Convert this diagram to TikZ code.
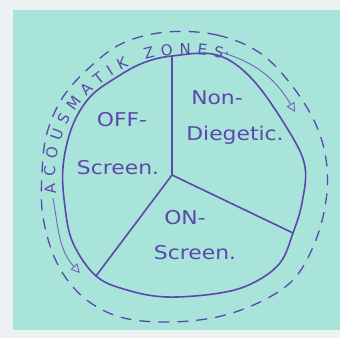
\documentclass[tikz,border=0pt]{standalone}
\usepackage{fontspec}
\setsansfont{DejaVu Sans}
\usetikzlibrary{decorations.text,arrows.meta}
\definecolor{ink}{RGB}{92,72,170}
\definecolor{note}{RGB}{168,228,218}
\definecolor{paper}{RGB}{236,242,242}
\begin{document}
\begin{tikzpicture}[x=1pt,y=1pt,
  pen/.style={draw=ink,line width=1.6pt,line join=round,line cap=round},
  dashring/.style={draw=ink,line width=1.3pt,dash pattern=on 11pt off 8pt},
  lbl/.style={text=ink,font=\sffamily\fontsize{19}{19}\selectfont,xscale=1.15,inner sep=0pt},
  arr/.style={draw=ink!85,line width=0.9pt,-{Triangle[open,length=9pt,width=9pt]}}]
% paper and sticky note
\fill[paper] (0,0) rectangle (340,338);
\useasboundingbox (0,0) rectangle (340,338);
\fill[note] (13,8) rectangle (340,328);
% key points of the pie
\coordinate (c) at (172,163);
\coordinate (ctop) at (172,282);
\coordinate (cright) at (293,105);
\coordinate (cleft) at (96,62);
% outer dashed ring
\draw[dashring] plot[smooth cycle,tension=0.6] coordinates {
  (167,306) (217,303) (260,285) (293,251) (317,211) (327,171) (325,131)
  (313,91) (293,58) (260,36) (217,21) (167,16) (120,21) (83,41) (57,75)
  (43,121) (42,165) (47,205) (63,241) (90,271) (123,295)};
% main circle
\draw[pen] plot[smooth cycle,tension=0.6] coordinates {
  (ctop) (217,283) (253,258) (290,205) (305,171) (302,135) (cright)
  (280,75) (253,55) (220,45) (167,41) (127,48) (cleft) (73,95) (65,131)
  (63,171) (72,211) (90,241) (117,261) (143,275)};
% pie dividers
\draw[pen] (c) -- (ctop);
\draw[pen] (c) -- (cright);
\draw[pen] (c) -- (cleft);
% curved title
\coordinate (ts) at (56.3,145);
\path[decorate,decoration={text along path,text color=ink,
  text={|\sffamily\fontsize{15}{15}\selectfont|ACOUSMATIK ZONES},
  text align={fit to path}}]
  (ts) arc[start angle=188,end angle=74,x radius=131,y radius=122];
\node[text=ink,font=\sffamily\fontsize{15}{15}\selectfont,inner sep=0pt,rotate=-20] (dot) at (227,285) {.};
% arrows
\coordinate (a1) at (220,286);
\coordinate (a2) at (295,226);
\draw[arr] (a1) to[out=-16,in=120] (a2);
\coordinate (b1) at (53,140);
\coordinate (b2) at (80,65);
\draw[arr] (b1) to[out=-80,in=133] (b2);
% labels
\node[lbl] (off) at (122,218) {OFF-};
\node[lbl] (offs) at (118,170) {Screen.};
\node[lbl] (non) at (217,240) {Non-};
\node[lbl] (dieg) at (235,203) {Diegetic.};
\node[lbl] (on) at (185,120) {ON-};
\node[lbl] (ons) at (195,85) {Screen.};
\end{tikzpicture}
\end{document}
